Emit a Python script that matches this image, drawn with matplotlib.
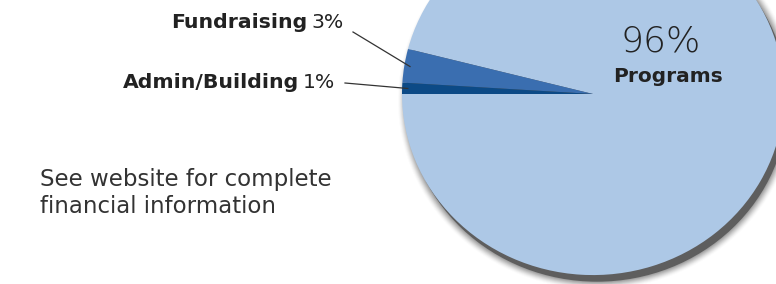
import matplotlib
matplotlib.use("Agg")
import matplotlib.pyplot as plt
import numpy as np
from matplotlib.patches import Circle

# data
labels = ["Programs", "Fundraising", "Admin/Building"]
values = [96, 3, 1]
colors = ["#adc8e6", "#3a6eb0", "#0c4a86"]
note = "See website for complete\nfinancial information"

plt.rcParams['font.family'] = ['DejaVu Sans']

fig = plt.figure(figsize=(7.76, 2.84), dpi=100)

# pie axes: slightly squashed vertically like the original artwork
cx, r = 593, 191
sy = 0.948                      # vertical squash
cy_pix = 190                    # centre height in pixels from bottom
cy = 191
y0 = cy - cy_pix / sy
axp = fig.add_axes([0, 0, 1, 1])

for i, a in enumerate(np.linspace(0.05, 0.35, 8)):
    axp.add_patch(Circle((cx + 4, cy - 7), r + 8 - i, color="#4a4a4a", alpha=a * 0.4, lw=0, zorder=1))
axp.add_patch(Circle((cx + 4, cy - 7), r, color="#5e5e5e", lw=0, zorder=1))

wedges, _ = axp.pie(values, colors=colors, startangle=180, counterclock=True,
                    center=(cx, cy), radius=r, wedgeprops=dict(linewidth=0))
for w in wedges:
    w.set_zorder(2)
axp.set_xlim(0, 776)
axp.set_ylim(y0, y0 + 284 / sy)
axp.set_aspect("auto")
axp.axis("off")

# overlay axes in pixel units for text and leader lines
ax = fig.add_axes([0, 0, 1, 1])
ax.set_xlim(0, 776)
ax.set_ylim(0, 284)
ax.axis("off")

fs = 14.7
small = [(1, 353, 252, 262, 311, "Fundraising", "3%"),
         (2, 345, 201, 202, 303, "Admin/Building", "1%")]
for idx, lx, ly, ty, px0, name, pct in small:
    w = wedges[idx]
    mid = np.deg2rad((w.theta1 + w.theta2) / 2)
    ex = cx + r * 0.97 * np.cos(mid)
    ey = cy_pix + r * sy * 0.97 * np.sin(mid)
    ax.plot([lx, ex], [ly, ey], color="#333333", lw=0.9, zorder=3)
    ax.text(px0, ty, pct, ha="left", va="center", fontsize=fs, color="#222222")
    ax.text(px0 - 4, ty, name, ha="right", va="center", fontsize=fs,
            fontweight="bold", color="#222222")

ax.text(661, 242, "96%", ha="center", va="center", fontsize=26, fontweight="light",
        color="#222222", zorder=4)
ax.text(668, 208, "Programs", ha="center", va="center", fontsize=14.5, fontweight="bold",
        color="#222222", zorder=4)

ax.text(40, 91, note, ha="left", va="center", fontsize=16.5, color="#333333",
        linespacing=1.2)

fig.savefig("out.png", dpi=100)
